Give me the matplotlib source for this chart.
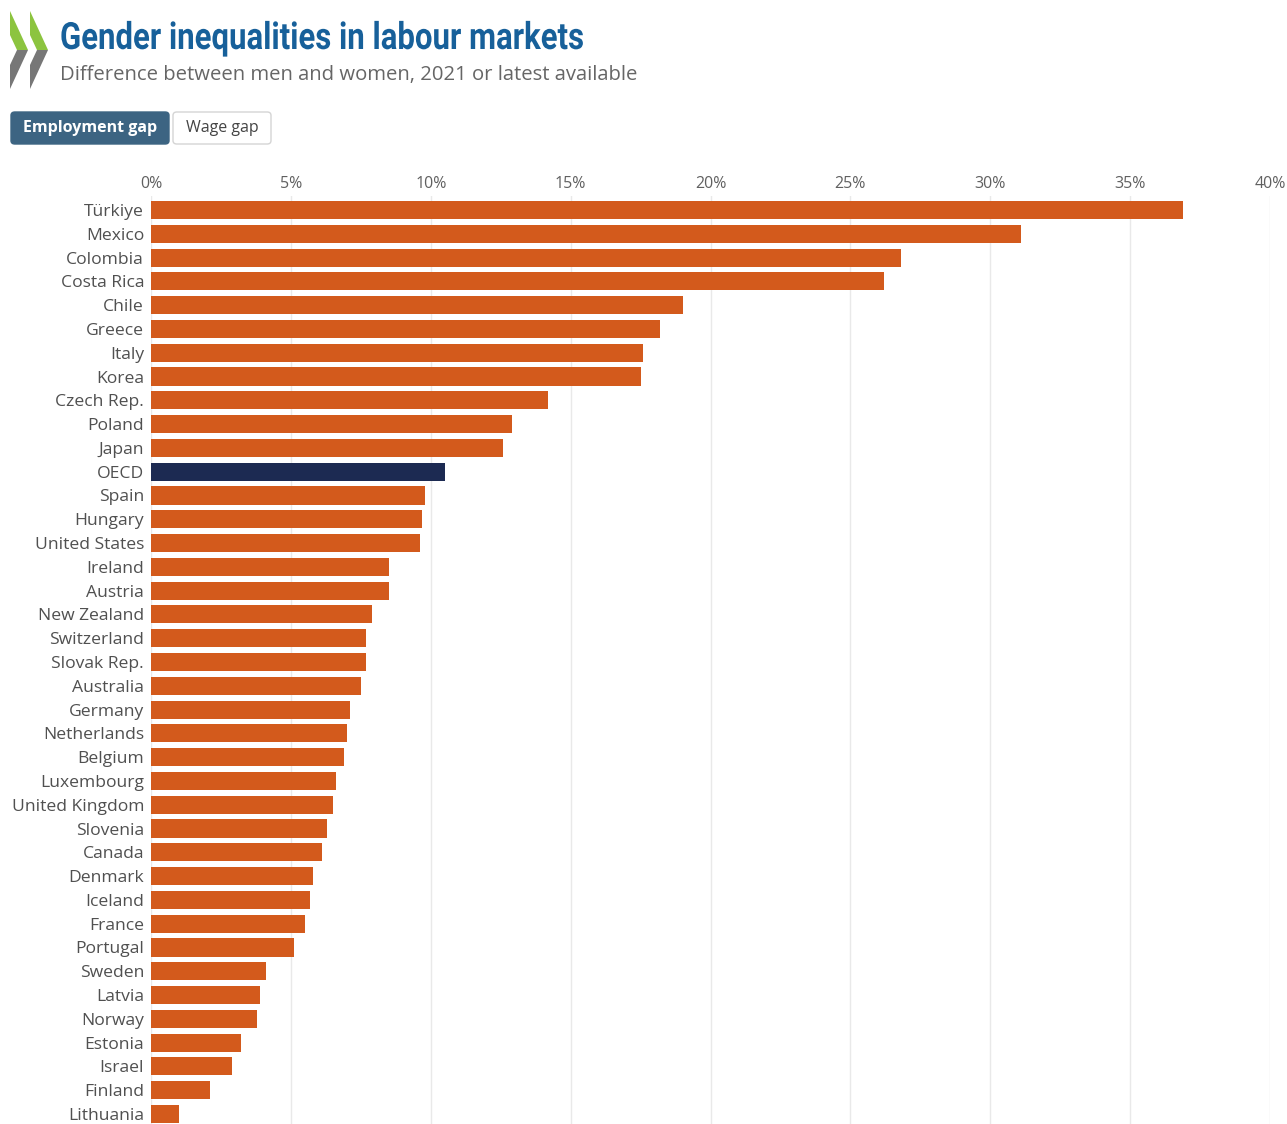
import matplotlib

matplotlib.use("Agg")
import matplotlib.pyplot as plt
from matplotlib.patches import FancyBboxPatch, Polygon
from matplotlib.patheffects import AbstractPathEffect
from matplotlib.transforms import Affine2D

W, H = 1287, 1124

COUNTRIES = [
    "Türkiye", "Mexico", "Colombia", "Costa Rica", "Chile", "Greece", "Italy",
    "Korea", "Czech Rep.", "Poland", "Japan", "OECD", "Spain", "Hungary",
    "United States", "Ireland", "Austria", "New Zealand", "Switzerland",
    "Slovak Rep.", "Australia", "Germany", "Netherlands", "Belgium",
    "Luxembourg", "United Kingdom", "Slovenia", "Canada", "Denmark", "Iceland",
    "France", "Portugal", "Sweden", "Latvia", "Norway", "Estonia", "Israel",
    "Finland", "Lithuania",
]
EMPLOYMENT_GAP = [
    36.9, 31.1, 26.8, 26.2, 19.0, 18.2, 17.6, 17.5, 14.2, 12.9, 12.6, 10.5,
    9.8, 9.7, 9.6, 8.5, 8.5, 7.9, 7.7, 7.7, 7.5, 7.1, 7.0, 6.9, 6.6, 6.5,
    6.3, 6.1, 5.8, 5.7, 5.5, 5.1, 4.1, 3.9, 3.8, 3.2, 2.9, 2.1, 1.0,
]
X_TICKS = [0, 5, 10, 15, 20, 25, 30, 35, 40]
HIGHLIGHT = "OECD"

ORANGE = "#d35a1c"
NAVY = "#1c2a52"
LABEL_GREY = "#505050"
FONT = ["Open Sans", "DejaVu Sans"]
TITLE_FONT = ["Roboto", "DejaVu Sans"]


class Condense(AbstractPathEffect):
    """Squeeze glyphs horizontally around the text origin."""

    def __init__(self, sx):
        super().__init__()
        self.sx = sx

    def draw_path(self, renderer, gc, tpath, affine, rgbFace=None):
        renderer.draw_path(gc, tpath, Affine2D().scale(self.sx, 1) + affine, rgbFace)


def px(x, y):
    """Pixel position (from top-left) to figure fraction."""
    return x / W, 1 - y / H


plt.rcParams["font.family"] = FONT

fig = plt.figure(figsize=(W / 100, H / 100), dpi=100)
fig.patch.set_facecolor("white")

# bar area
row_px = (1114 - 210) / (len(COUNTRIES) - 1)
ax_top, ax_bottom = 196, 1124
left, right = 151, 1270
ax = fig.add_axes([left / W, 1 - ax_bottom / H, (right - left) / W, (ax_bottom - ax_top) / H])

positions = list(range(len(COUNTRIES)))
colors = [NAVY if c == HIGHLIGHT else ORANGE for c in COUNTRIES]
ax.barh(positions, EMPLOYMENT_GAP, height=0.76, color=colors, zorder=3)

ax.set_xlim(0, 40)
ax.set_ylim(len(COUNTRIES) - 1 + 10 / row_px, -14 / row_px)
ax.set_yticks(positions)
ax.set_yticklabels(COUNTRIES, fontsize=12.6, color=LABEL_GREY)
ax.xaxis.tick_top()
ax.set_xticks(X_TICKS)
ax.set_xticklabels([f"{t}%" for t in X_TICKS], fontsize=11.5, color="#606060")
ax.tick_params(axis="both", length=0)
ax.tick_params(axis="x", pad=3)
ax.tick_params(axis="y", pad=5)
ax.grid(axis="x", color="#e9e9e9", linewidth=1, zorder=0)
for spine in ax.spines.values():
    spine.set_visible(False)

# logo: two chevrons, green upper arm and grey lower arm
for dx in (0, 20):
    green = [(10, 11), (28, 50), (17, 50), (10, 35)]
    grey = [(17, 50), (28, 50), (10, 89), (10, 65)]
    fig.add_artist(Polygon([px(x + dx, y) for x, y in green], closed=True,
                           color="#8cc43f", transform=fig.transFigure, lw=0))
    fig.add_artist(Polygon([px(x + dx, y) for x, y in grey], closed=True,
                           color="#777777", transform=fig.transFigure, lw=0))

fig.text(*px(60, 49), "Gender inequalities in labour markets", family=TITLE_FONT,
         fontsize=27, fontweight="bold", color="#17609a", va="baseline",
         path_effects=[Condense(0.83)])
fig.text(*px(60, 80), "Difference between men and women, 2021 or latest available",
         fontsize=14.6, color="#666666", va="baseline")


# tab buttons
def button(x0, x1, label, active):
    y0, y1 = 112, 144
    fx0, fy0 = px(x0, y1)
    fx1, fy1 = px(x1, y0)
    box = FancyBboxPatch((fx0, fy0), fx1 - fx0, fy1 - fy0,
                         boxstyle="round,pad=0,rounding_size=0.003",
                         transform=fig.transFigure,
                         facecolor="#3c6482" if active else "white",
                         edgecolor="#3c6482" if active else "#d4d4d4", lw=1)
    fig.add_artist(box)
    fig.text((fx0 + fx1) / 2, (fy0 + fy1) / 2, label, ha="center", va="center",
             fontsize=11.5, fontweight="bold" if active else "normal",
             color="white" if active else "#444444")


button(11, 169, "Employment gap", True)
button(173, 271, "Wage gap", False)

fig.savefig("out.png", dpi=100, facecolor="white")
